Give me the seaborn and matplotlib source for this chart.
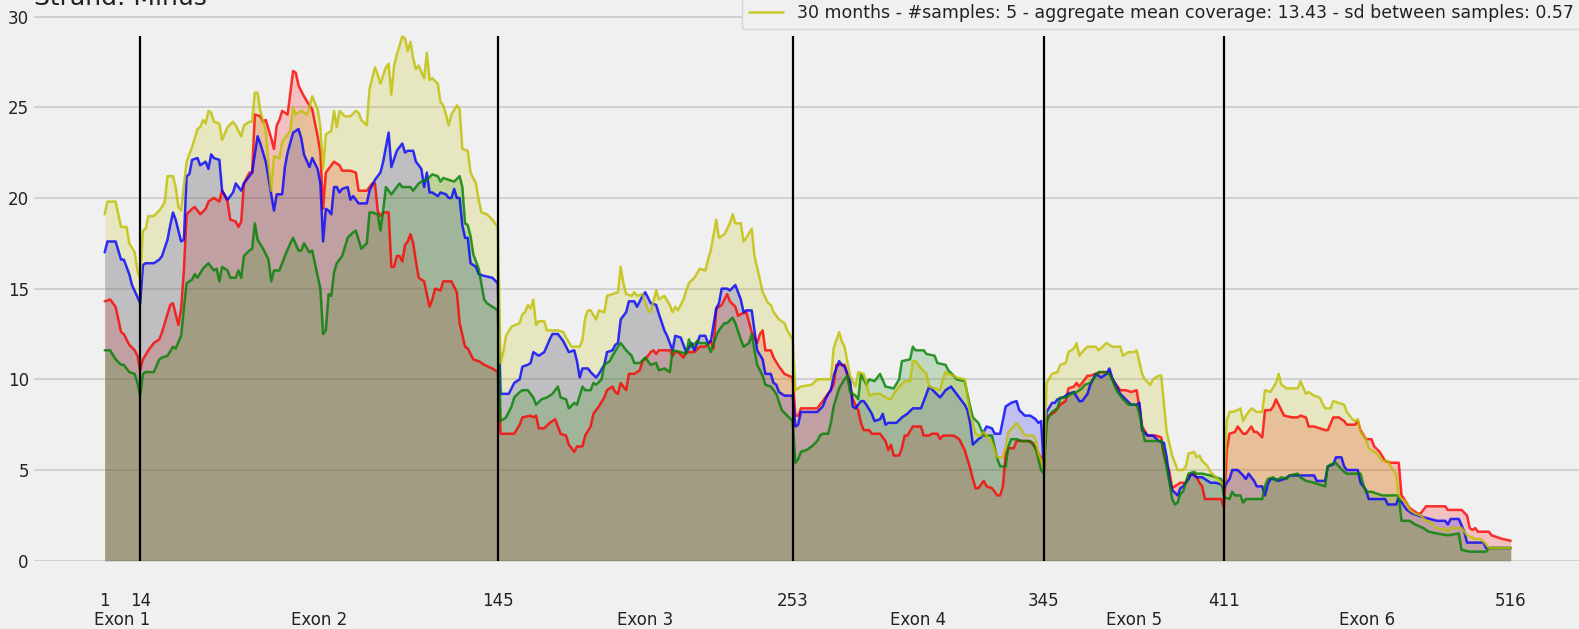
import matplotlib
matplotlib.use("Agg")
import matplotlib.pyplot as plt
from matplotlib.lines import Line2D
import pandas as pd
import seaborn as sns

# ---------------- data ----------------
exon_bounds = [1, 14, 145, 253, 345, 411, 516]
exon_names = ["Exon 1", "Exon 2", "Exon 3", "Exon 4", "Exon 5", "Exon 6"]
title_text = "Strand: Minus"
legend_label = "30 months - #samples: 5 - aggregate mean coverage: 13.43 - sd between samples: 0.57"
y_ticks = [0, 5, 10, 15, 20, 25, 30]

red = [(1,14.3),(3,14.4),(5,14.0),(7,12.6),(8,12.5),(10,11.9),(12,11.6),(13,11.3),(14,10.5),(15,11.1),(17,11.6),(19,12.0),(21,12.2),(22,12.6),(24,13.6),(25,14.1),(26,14.2),(28,13.0),(29,13.9),(30,16.0),(31,19.1),(33,19.4),(34,19.5),(36,19.1),(38,19.4),(39,19.8),(41,20.0),(43,19.8),(44,20.4),(46,19.8),(47,18.8),(49,18.7),(50,18.4),(51,18.7),(52,20.8),(54,21.4),(55,21.4),(56,24.6),(58,24.5),(59,24.2),(60,24.3),(62,23.3),(63,22.7),(64,24.0),(65,24.3),(66,24.8),
       (68,24.6),(70,27.0),(71,26.9),(72,26.2),(74,25.6),(76,25.1),(77,24.9),(79,23.4),(80,22.5),(81,19.4),(82,21.4),(83,21.6),(85,22.0),(87,21.8),(88,21.5),(91,21.5),(93,21.4),(94,20.4),(97,20.4),(99,20.8),(100,20.8),(101,19.3),(102,19.0),(103,19.2),(105,19.2),(106,16.2),(107,16.2),(108,16.8),(109,16.8),(110,16.5),(111,17.4),(112,17.6),(113,18.0),(114,17.5),(115,16.5),(116,15.6),(118,15.4),(120,14.0),(121,14.4),(122,15.0),(124,14.9),(125,15.4),(128,15.4),(130,14.8),(131,13.1),(133,11.8),(134,11.7),
       (136,11.1),(138,11.0),(140,10.8),(143,10.6),(145,10.4),(146,7.0),(151,7.0),(153,7.5),(154,7.9),(157,8.0),(158,7.9),(159,8.0),(160,7.3),(162,7.3),(164,7.6),(166,7.8),(167,7.4),(168,7.0),(170,6.9),(171,6.4),(172,6.2),(173,6.0),(174,6.3),(176,6.3),(177,6.9),(179,7.4),(180,8.1),(182,8.5),(184,9.0),(185,9.4),(187,9.6),(188,9.3),(189,9.2),(190,9.8),(192,9.4),(193,10.3),(195,10.3),(197,10.5),(198,11.0),(200,11.3),(201,11.5),(202,11.6),(203,11.4),(204,11.6),(206,11.6),
       (208,11.6),(209,11.3),(210,11.5),(211,11.5),(213,11.2),(214,11.5),(217,11.5),(219,11.8),(221,11.8),(223,12.1),(224,11.7),(225,13.9),(227,14.1),(229,14.7),(230,14.3),(232,14.0),(233,13.5),(234,13.6),(236,13.7),(238,12.6),(240,12.0),(241,12.5),(242,12.7),(243,11.6),(245,11.6),(246,11.2),(248,10.7),(250,10.3),(253,10.1),(254,8.0),(255,8.0),(256,8.4),(262,8.4),
       (264,8.8),(266,9.2),(268,9.7),(269,10.8),(272,10.8),(274,9.7),(275,8.9),(277,8.3),(278,7.6),(279,7.2),(281,7.2),(282,7.0),(285,7.0),(287,6.6),(288,6.1),(289,6.4),(290,5.8),(292,5.8),(293,6.2),(294,6.9),(295,6.9),(297,7.4),(300,7.4),(301,6.9),(303,6.9),(304,7.0),(306,7.0),(307,6.7),(308,6.9),(312,6.9),(314,6.7),(316,6.1),(318,5.1),(319,4.5),(320,4.0),(321,4.0),(323,4.4),(324,4.1),(326,4.0),(328,3.6),(329,3.6),(330,4.1),(331,5.9),(332,6.2),(334,6.2),(335,6.6),(339,6.6),(341,6.5),(342,6.2),(343,5.9),
       (344,5.7),(345,5.1),(346,7.8),(347,8.0),(349,8.2),(351,8.6),(353,8.8),(354,9.5),(356,9.6),(357,9.8),(358,9.6),(359,9.8),(361,10.2),(362,10.2),(364,10.3),(366,10.4),(369,10.4),(370,10.0),(372,9.6),(373,9.4),(375,9.4),(377,9.3),(379,9.4),(380,8.5),(381,7.4),(383,6.9),(386,6.9),(388,6.8),(389,5.8),(391,4.9),(392,4.0),(393,4.1),(394,4.2),(395,4.3),(397,4.3),(398,4.7),(400,4.8),(401,4.6),(402,4.3),(403,4.1),(404,3.4),(406,3.4),(408,3.4),(410,3.4),(411,2.9),
       (412,6.1),(413,7.0),(415,7.1),(416,7.4),(418,7.0),(419,7.0),(421,7.4),(422,7.1),(423,7.1),(425,6.8),(426,8.3),(428,8.3),(429,8.5),(430,8.9),(432,8.3),(433,8.0),(436,7.9),(438,7.9),(439,8.0),(441,7.9),(442,7.4),(444,7.4),(446,7.3),(448,7.2),(449,7.2),(451,7.9),(453,7.9),(455,7.7),(456,7.5),(459,7.5),(460,7.7),(461,7.2),(463,6.7),(465,6.7),(466,6.3),(468,6.0),(470,5.5),(472,5.4),(475,5.4),(476,3.6),(477,3.4),(479,2.9),(482,2.6),(483,2.6),(485,3.0),(492,3.0),(493,2.8),(498,2.8),(500,2.5),(501,1.8),(502,1.7),(503,1.8),(504,1.6),(508,1.6),(509,1.4),(511,1.3),(513,1.2),(516,1.1)]

blue = [(1,17.0),(2,17.6),(5,17.6),(7,16.6),(8,16.6),(10,15.8),(11,15.2),(14,14.2),(15,16.3),(16,16.4),(19,16.4),(21,16.6),(22,16.8),(24,17.7),(25,18.5),(26,19.2),(27,18.8),(29,17.6),(30,17.7),(31,21.2),(32,21.3),(33,22.1),(35,22.2),(36,21.8),(38,22.0),(39,21.6),(40,22.4),(41,22.2),(43,22.1),(44,20.4),(46,19.9),(48,20.3),(49,20.8),(51,20.4),(52,20.8),(54,21.2),(55,21.4),(57,23.4),(58,23.0),(59,22.5),(60,22.0),(62,20.2),(63,19.3),(64,20.2),(66,20.2),(67,21.7),
        (68,22.5),(70,23.6),(72,23.8),(73,23.3),(74,22.4),(76,21.7),(77,22.2),(79,21.6),(80,20.8),(81,17.6),(82,19.4),(83,19.3),(84,19.1),(85,20.6),(86,20.6),(87,20.3),(88,20.5),(90,20.6),(91,19.9),(92,20.1),(94,19.7),(97,19.7),(98,20.4),(100,21.0),(102,21.4),(103,22.0),(105,23.6),(106,21.7),(108,22.6),(110,23.0),(111,22.5),(112,22.6),(114,22.6),(115,22.0),(117,21.6),(118,20.6),(119,21.4),(120,20.3),(121,20.3),(123,20.1),(124,20.3),(126,20.2),(127,20.0),(128,20.0),(129,20.5),(130,20.0),(131,20.0),(132,18.5),(133,17.8),(134,17.8),(135,16.4),
        (137,16.2),(138,15.8),(140,15.7),(143,15.6),(145,15.3),(146,9.2),(149,9.2),(151,9.8),(153,10.0),(154,10.7),(156,10.8),(157,10.9),(158,11.5),(160,11.3),(162,11.5),(164,12.2),(165,12.5),(167,12.5),(169,12.1),(170,11.8),(171,11.5),(173,11.6),(174,11.0),(175,10.1),(176,10.6),(178,10.6),(179,10.4),(181,10.1),(182,10.3),(184,10.8),(185,11.5),(187,11.6),(188,11.9),(189,12.0),(190,13.3),(192,13.7),(193,14.3),(195,14.3),(196,14.0),(198,14.6),(199,14.8),(200,14.5),(201,14.2),(203,14.1),(204,13.6),(206,12.7),
        (207,12.4),(209,11.6),(210,12.4),(212,12.3),(214,11.5),(216,12.0),(217,11.6),(219,12.4),(221,12.4),(222,12.0),(223,12.1),(225,13.9),(226,14.2),(227,15.0),(229,15.0),(230,14.9),(232,15.2),(234,14.4),(235,13.7),(236,13.8),(238,13.8),(239,12.7),(240,11.6),(242,11.1),(243,10.3),(245,10.3),(246,9.8),(247,9.7),(248,9.3),(250,9.1),(253,9.1),(254,7.4),(255,7.5),(256,8.2),(262,8.2),(264,8.5),(265,8.9),(266,9.2),(267,9.4),(268,10.2),(270,11.0),(271,10.8),(272,10.7),(274,10.0),(275,8.5),(276,8.4),
        (278,8.8),(279,8.8),(280,8.6),(282,8.1),(283,7.7),(285,7.8),(286,8.1),(287,7.5),(288,7.6),(291,7.6),(293,7.9),(295,8.1),(297,8.4),(300,8.4),(302,9.2),(303,9.6),(305,9.3),(307,9.0),(308,9.2),(309,9.4),(311,9.6),(312,9.4),(314,9.0),(316,8.6),(317,8.3),(318,7.6),(319,6.4),(321,6.7),(322,6.8),(323,7.1),(324,7.4),(326,7.3),(327,7.0),(329,7.0),(331,8.5),(333,8.7),(335,8.8),(336,8.3),(338,8.0),(340,8.0),(342,7.8),(343,7.6),
        (344,7.7),(345,5.1),(346,8.2),(348,8.7),(349,8.7),(350,8.9),(352,9.0),(354,9.2),(356,9.3),(358,8.8),(359,8.8),(361,9.2),(362,9.7),(364,10.3),(366,10.1),(368,10.3),(369,10.6),(370,10.1),(372,9.5),(373,9.2),(375,8.9),(377,8.6),(379,8.6),(380,8.7),(381,7.2),(383,6.9),(385,6.9),(387,6.6),(389,6.5),(390,5.7),(391,4.5),(392,3.9),(394,3.6),(395,4.0),(396,4.1),(398,4.5),(399,4.8),(401,4.6),(403,4.6),(405,4.4),(406,4.3),(408,4.3),(410,4.2),(411,4.0),
        (412,4.3),(413,4.5),(414,5.0),(416,5.0),(418,4.7),(419,4.5),(420,4.8),(422,4.4),(423,4.1),(425,4.1),(426,3.6),(427,4.2),(428,4.5),(430,4.5),(431,4.4),(433,4.5),(435,4.7),(444,4.7),(445,4.4),(448,4.4),(449,5.2),(451,5.3),(452,5.7),(454,5.7),(455,5.2),(456,5.0),(460,5.0),(461,4.3),(463,3.9),(464,3.4),(470,3.4),(471,3.1),(474,3.1),(475,3.5),(477,3.0),(478,2.8),(480,2.6),(484,2.4),(489,2.2),(492,2.2),(493,2.0),(494,2.3),(497,2.3),(499,1.6),(500,1.0),(506,1.0),(507,0.7),(516,0.7)]

green = [(1,11.6),(3,11.6),(5,11.1),(7,10.8),(8,10.8),(10,10.4),(12,10.3),(13,9.8),(14,9.1),(15,10.3),(16,10.4),(19,10.4),(21,11.1),(22,11.2),(24,11.3),(26,11.8),(27,11.7),(29,12.4),(30,13.9),(31,15.3),(33,15.5),(34,15.8),(35,15.6),(37,16.1),(39,16.4),(41,16.0),(42,16.1),(43,15.4),(44,16.2),(46,16.0),(47,15.6),(49,15.6),(50,16.0),(51,15.6),(52,16.8),(54,17.1),(55,17.2),(56,18.6),(57,17.7),(59,17.2),(61,16.6),(62,15.4),(63,16.0),(65,16.0),(67,16.8),
         (69,17.5),(70,17.8),(72,17.1),(73,17.1),(74,17.5),(76,17.0),(77,17.1),(79,15.7),(80,15.0),(81,12.5),(82,12.7),(83,14.7),(84,14.6),(85,15.9),(86,16.4),(88,16.8),(90,17.8),(92,18.1),(93,18.2),(95,17.2),(97,17.5),(98,19.2),(99,19.2),(101,19.1),(102,18.2),(103,19.3),(104,20.6),(106,20.2),(107,20.4),(109,20.8),(110,20.6),(113,20.6),(114,20.4),(116,20.8),(117,20.9),(119,21.0),(121,21.3),(123,21.2),(124,20.9),(125,21.1),(127,21.0),(129,20.9),(131,21.2),(132,20.6),(133,18.6),(134,18.5),(135,17.9),
         (136,16.9),(138,16.1),(140,14.4),(141,14.2),(143,14.0),(145,13.8),(146,7.7),(148,7.9),(150,8.5),(151,9.0),(153,9.3),(154,9.4),(156,9.4),(158,9.0),(159,8.6),(161,8.9),(163,9.0),(165,9.2),(167,9.6),(168,9.0),(170,8.9),(171,8.4),(173,8.7),(174,8.6),(176,9.6),(177,9.4),(179,9.4),(180,9.8),(181,9.7),(183,10.0),(184,10.8),(186,11.0),(187,11.3),(189,11.8),(190,12.0),(192,11.6),(194,11.3),(195,10.9),(197,10.9),(199,11.2),(200,11.0),(201,10.8),(203,10.9),(204,10.5),(206,10.6),
         (208,10.4),(209,11.6),(212,11.5),(214,11.4),(215,12.2),(216,11.8),(218,12.1),(219,12.0),(221,12.0),(222,11.9),(223,11.5),(225,12.4),(226,12.7),(228,13.1),(229,13.1),(231,13.4),(232,13.1),(234,12.2),(235,11.8),(237,12.0),(238,12.5),(239,11.6),(240,10.8),(242,10.2),(243,9.7),(245,9.6),(247,9.2),(249,8.3),(251,8.0),(253,7.7),(254,5.4),(255,5.6),(256,6.0),(258,6.1),(260,6.3),(262,6.6),(263,6.9),(264,7.0),(266,7.0),(267,7.6),(268,8.5),(270,9.5),(272,10.0),(273,10.2),(274,9.3),(276,9.1),(277,8.9),(278,10.3),(280,9.7),(281,10.0),(283,9.9),(285,10.3),(287,9.6),(290,9.5),(292,10.0),(293,11.0),(296,11.1),(297,11.8),(298,11.6),(301,11.6),(302,11.4),(305,11.3),(306,10.9),(309,10.8),(310,10.5),(312,10.2),(313,10.0),(316,9.9),(318,8.5),(319,7.9),(321,7.6),(323,6.9),(326,6.9),(328,5.6),(329,5.2),(331,5.2),(332,6.3),(333,6.7),(335,6.7),(337,6.6),(340,6.6),(342,6.2),(343,5.6),
         (344,5.0),(345,4.8),(346,7.6),(347,8.0),(348,8.2),(350,8.4),(351,9.0),(353,9.0),(355,9.2),(357,9.3),(359,9.5),(360,9.7),(362,9.8),(363,10.0),(365,10.4),(367,10.4),(369,10.3),(370,10.0),(371,9.6),(372,9.3),(374,8.9),(376,8.6),(379,8.6),(380,8.1),(382,6.6),(388,6.6),(389,5.9),(391,4.3),(392,3.4),(393,3.1),(394,3.2),(395,3.7),(396,3.8),(397,4.3),(398,4.8),(400,4.9),(401,4.8),(403,4.8),(406,4.7),(408,4.6),(410,4.5),(411,3.5),
         (413,3.4),(414,3.8),(415,3.6),(417,3.6),(418,3.2),(419,3.4),(425,3.4),(426,4.1),(427,4.5),(429,4.6),(430,4.4),(432,4.6),(434,4.5),(435,4.7),(438,4.8),(439,4.6),(441,4.4),(444,4.3),(446,4.2),(448,4.1),(449,5.2),(450,5.3),(452,5.4),(453,5.2),(455,4.9),(456,4.8),(461,4.8),(462,4.2),(463,3.8),(465,3.8),(469,3.6),(475,3.6),(476,2.2),(479,2.2),(481,2.0),(484,1.8),(486,1.6),(489,1.5),(493,1.4),(497,1.5),(498,0.6),(501,0.5),(507,0.5),(508,0.7),(516,0.7)]

yellow = [(1,19.1),(2,19.8),(5,19.8),(7,18.4),(9,18.4),(10,17.5),(12,17.0),(13,16.0),(14,15.5),(15,18.2),(16,18.3),(17,19.0),(19,19.0),(21,19.3),(22,19.5),(23,19.8),(24,21.2),(26,21.2),(27,20.6),(28,19.5),(29,19.3),(31,22.0),(33,22.8),(35,23.8),(36,23.9),(37,24.3),(38,24.1),(39,24.8),(40,24.7),(41,24.2),(43,24.1),(44,23.2),(46,23.9),(48,24.2),(49,24.0),(51,23.4),(52,24.0),(54,24.2),(55,24.2),(56,25.8),(57,25.8),(58,24.8),(60,23.7),(61,21.9),(62,20.4),(63,22.3),(65,22.2),(66,23.1),(67,23.3),
          (69,23.7),(70,25.0),(71,24.6),(73,24.8),(75,24.6),(76,25.0),(77,25.6),(79,24.9),(80,23.9),(81,21.6),(82,23.5),(84,23.7),(85,24.8),(86,23.9),(87,24.8),(89,24.5),(91,24.5),(93,24.8),(94,24.7),(95,24.3),(97,24.0),(98,26.0),(100,27.2),(101,26.8),(102,26.3),(104,27.2),(105,27.4),(106,25.7),(107,27.3),(108,27.9),(110,28.9),(111,28.8),(112,28.1),(113,28.6),(114,27.7),(115,27.1),(116,27.3),(118,26.6),(119,28.0),(120,26.5),(121,26.6),(123,26.3),(124,25.3),(125,25.1),(126,24.6),(127,24.0),(128,24.6),(130,25.1),(131,24.9),(132,22.7),(134,22.6),(135,21.4),
          (137,20.8),(138,19.9),(139,19.2),(141,19.1),(143,18.8),(145,18.4),(146,10.9),(147,11.5),(148,12.4),(150,12.9),(153,13.1),(154,13.6),(155,13.7),(156,14.1),(157,13.9),(158,14.4),(159,13.0),(160,13.2),(162,13.2),(163,12.7),(167,12.7),(169,12.6),(170,12.3),(172,11.8),(175,11.8),(176,12.2),(177,13.4),(178,13.8),(179,13.8),(181,13.3),(182,13.8),(184,13.7),(185,14.6),(187,14.7),(189,14.8),(190,16.2),(191,15.3),(192,14.7),(194,14.6),(195,14.8),(196,14.6),(198,14.7),(200,13.8),(201,13.7),(203,14.9),(204,14.4),(206,14.6),
          (208,14.1),(209,13.7),(210,14.0),(211,13.8),(213,14.4),(214,14.9),(215,15.3),(217,15.6),(219,16.1),(221,16.0),(222,16.6),(223,17.1),(225,18.8),(226,17.8),(228,18.0),(230,18.6),(231,19.1),(232,18.6),(234,18.6),(235,17.6),(236,17.8),(238,18.3),(239,16.8),(241,15.5),(242,14.8),(244,14.2),(245,14.1),(246,13.7),(248,13.3),(250,13.1),(251,12.7),(253,12.2),(254,9.4),(256,9.6),(260,9.7),(262,10.0),(267,10.0),(268,11.7),(270,12.6),(271,12.1),(272,11.8),(274,10.2),(276,9.6),
          (277,10.4),(279,10.3),(280,9.8),(281,9.1),(283,9.2),(285,9.2),(287,9.0),(289,8.9),(290,9.2),(292,9.6),(294,9.9),(296,9.9),(297,11.0),(298,11.0),(300,10.6),(302,10.3),(303,9.6),(305,9.5),(307,9.4),(308,10.0),(309,10.4),(310,10.3),(312,10.2),(313,10.1),(316,10.0),(317,9.1),(318,8.1),(320,7.0),(321,6.9),(322,6.9),(323,7.1),(324,6.9),(326,6.5),(328,5.7),(330,5.7),(331,6.3),(332,7.1),(334,7.4),(335,7.6),(337,7.2),(338,6.9),(341,6.9),(342,6.7),(343,5.9),
          (344,5.6),(345,5.0),(346,9.8),(348,10.3),(350,10.4),(351,10.8),(353,10.9),(354,11.5),(356,11.7),(357,12.0),(358,11.3),(359,11.5),(361,11.8),(364,11.8),(365,11.6),(368,12.0),(370,11.8),(373,11.8),(374,11.3),(376,11.5),(378,11.5),(379,11.6),(381,10.3),(382,10.0),(384,9.7),(385,10.0),(387,10.2),(388,10.2),(389,8.6),(390,7.1),(392,5.8),(393,5.4),(394,5.0),(396,5.0),(397,5.2),(398,5.9),(400,6.0),(401,5.7),(402,5.8),(403,5.5),(405,5.2),(406,4.9),(408,4.6),(410,4.3),(411,4.1),
          (412,7.7),(413,8.2),(414,8.2),(416,8.3),(417,8.4),(418,7.7),(419,8.0),(421,8.4),(423,8.2),(425,8.2),(426,9.4),(428,9.3),(430,9.8),(431,10.3),(432,9.7),(434,9.5),(438,9.5),(439,9.9),(441,9.2),(442,9.3),(444,9.1),(446,9.0),(448,8.4),(450,8.4),(451,8.8),(453,8.7),(455,8.6),(456,8.2),(458,7.8),(459,7.7),(460,7.8),(461,7.1),(463,6.7),(464,6.2),(465,6.1),(467,5.9),(469,5.5),(471,5.5),(472,5.2),(474,4.8),(475,3.6),(476,3.4),(478,3.2),(479,2.8),(481,2.6),(483,2.5),(485,2.2),(487,2.1),(489,1.8),(491,1.7),(492,1.8),(493,1.6),(494,1.8),(498,1.8),(500,1.4),(503,1.2),(505,1.2),(507,0.9),(508,0.7),(516,0.7)]

series_names = ["series A", "series B", "series C", "30 months"]
series_data = [red, blue, green, yellow]
series_colors = ["#ff0000", "#0000ff", "#008000", "#bfbf00"]

# ---------------- style ----------------
BG = "#f0f0f0"
TXT = "#222222"
sns.set_theme(style="whitegrid")
plt.rcParams["font.family"] = ["DejaVu Sans"]

frames = []
for name, pts in zip(series_names, series_data):
    frames.append(pd.DataFrame({"pos": [p for p, _ in pts],
                                "cov": [v for _, v in pts],
                                "series": name}))
df = pd.concat(frames, ignore_index=True)

W, H = 1579, 629
fig = plt.figure(figsize=(W / 100, H / 100), dpi=100, facecolor=BG)
ax = fig.add_axes([34.4 / W, 1 - 560.7 / H, (1581 - 34.4) / W, (560.7 - 12) / H])
ax.set_facecolor(BG)

for name, color in zip(series_names, series_colors):
    d = df[df["series"] == name]
    ax.fill_between(d["pos"], d["cov"], color=color, alpha=0.2, lw=0)

sns.lineplot(data=df, x="pos", y="cov", hue="series", hue_order=series_names,
             palette=dict(zip(series_names, series_colors)), estimator=None,
             sort=False, lw=1.8, alpha=0.8, legend=False, ax=ax)

ymax = df["cov"].max()
ax.vlines(exon_bounds[1:-1], 0, ymax, color="black", lw=1.6, zorder=4)

ax.set_xlim(exon_bounds[0] - 0.05 * (exon_bounds[-1] - exon_bounds[0]),
            exon_bounds[-1] + 0.05 * (exon_bounds[-1] - exon_bounds[0]))
ax.set_ylim(0, 30.25)

ax.set_xticks(exon_bounds)
ax.set_xticklabels([str(b) for b in exon_bounds])
mids = [(a + b) / 2 for a, b in zip(exon_bounds[:-1], exon_bounds[1:])]
ax.set_xticks(mids, minor=True)
ax.set_xticklabels(exon_names, minor=True)
ax.set_yticks(y_ticks)
ax.set_yticklabels([str(t) for t in y_ticks])
ax.tick_params(axis="x", which="major", length=0, pad=22.5, labelsize=12, labelcolor=TXT)
ax.tick_params(axis="x", which="minor", length=0, pad=36.5, labelsize=12, labelcolor=TXT)
ax.tick_params(axis="y", length=0, pad=4, labelsize=12, labelcolor=TXT)

ax.set_xlabel("")
ax.set_ylabel("")
ax.grid(axis="y", color="#cbcbcb", lw=1.2)
ax.grid(axis="x", visible=False)
ax.set_axisbelow(True)
for s in ax.spines.values():
    s.set_visible(False)

ax.set_title(title_text, loc="left", fontsize=18, pad=5, color=TXT)

handle = Line2D([0], [0], color=series_colors[-1], lw=1.8, alpha=0.8)
leg = ax.legend([handle], [legend_label], loc="lower right",
                bbox_to_anchor=(1581 / W, 1 - 29.2 / H), bbox_transform=fig.transFigure,
                borderaxespad=0, fontsize=12.5, frameon=True, facecolor=BG,
                edgecolor="#d6d6d6", framealpha=1, fancybox=True)
for t in leg.get_texts():
    t.set_color(TXT)

fig.savefig("out.png", dpi=100, facecolor=BG)
